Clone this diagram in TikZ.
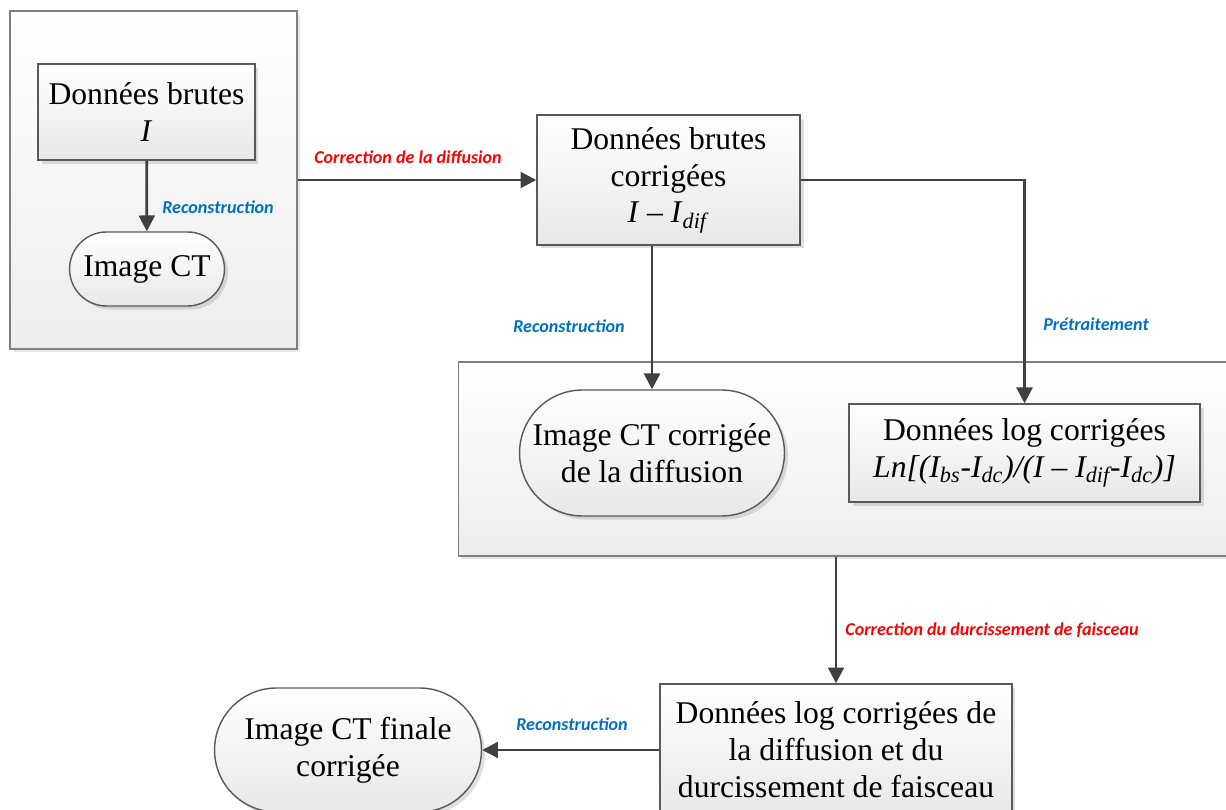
\documentclass[tikz,border=0pt]{standalone}
\usepackage{fontspec}
\setmainfont{Liberation Serif}
\newfontfamily\lblfont{Carlito}
\usetikzlibrary{positioning, arrows.meta, shapes.misc, shadows}
\definecolor{arrowgray}{HTML}{404040}
\definecolor{boxgray}{HTML}{595959}
\definecolor{panelgray}{HTML}{7F7F7F}
\definecolor{lblred}{HTML}{FF0000}
\definecolor{lblblue}{HTML}{0070C0}

\tikzset{
  panel/.style={draw=panelgray, line width=0.8pt, top color=white, bottom color=black!7,
    drop shadow={opacity=0.2, shadow xshift=2pt, shadow yshift=-2pt}},
  databox/.style={draw=boxgray, line width=0.8pt, top color=white, bottom color=black!9,
    drop shadow={opacity=0.25, shadow xshift=2pt, shadow yshift=-2pt},
    align=center, inner sep=2pt, font=\fontsize{18}{21}\selectfont},
  imgbox/.style={databox, rounded rectangle},
  flow/.style={draw=arrowgray, line width=1.6pt, -{Triangle[length=9pt, width=9pt]}},
  lbl/.style={font=\lblfont\bfseries\itshape\fontsize{10.3}{12}\selectfont, inner sep=1pt}
}

\begin{document}
\begin{tikzpicture}[x=0.02cm, y=-0.02cm]
  \useasboundingbox (0,0) rectangle (1226,810);

  % panels
  \node[panel, minimum width=5.74cm, minimum height=6.76cm] (left) at (153.5,180) {};
  \node[panel, minimum width=15.5cm, minimum height=3.88cm] (mid) at (846,459) {};

  % first stage
  \node[databox, minimum width=4.34cm, minimum height=1.92cm] (raw) at (146.5,112)
    {Données brutes\\\textit{I}};
  \node[imgbox, minimum width=3.24cm, minimum height=1.48cm] (img) at (147,269) {Image CT};

  \node[databox, minimum width=5.26cm, minimum height=2.6cm] (rawcorr) at (668.5,180)
    {Données brutes\\corrigées\\\textit{I} – \textit{I}\textsubscript{\textit{dif}}};

  % second stage
  \node[imgbox, minimum width=5.44cm, minimum height=2.52cm] (imgdif) at (652,453)
    {Image CT corrigée\\de la diffusion};
  \node[databox, minimum width=7.02cm, minimum height=1.96cm] (logcorr) at (1024.5,453)
    {Données log corrigées\\\textit{Ln[(I\textsubscript{bs}-I\textsubscript{dc})/(I – I\textsubscript{dif}-I\textsubscript{dc})]}};

  % final stage
  \node[databox, minimum width=7.04cm, minimum height=2.64cm] (logfinal) at (836,750)
    {Données log corrigées de\\la diffusion et du\\durcissement de faisceau};
  \node[imgbox, minimum width=5.48cm, minimum height=2.48cm] (imgfinal) at (348,750)
    {Image CT finale\\corrigée};

  % connectors
  \draw[flow] (raw) -- (img);
  \draw[flow] (left.east) -- (rawcorr.west);
  \draw[flow] (rawcorr.south -| imgdif.north) -- (imgdif.north);
  \draw[flow] (rawcorr.east) -| (logcorr.north);
  \draw[flow] (mid.south -| logfinal.north) -- (logfinal.north);
  \draw[flow] (logfinal.west) -- (imgfinal.east);

  % labels
  \node[lbl, text=lblblue] (rec1) at (218,207) {Reconstruction};
  \node[lbl, text=lblred] (diff) at (408,157) {Correction de la diffusion};
  \node[lbl, text=lblblue] (rec2) at (569,326) {Reconstruction};
  \node[lbl, text=lblblue] (pre) at (1096,324) {Prétraitement};
  \node[lbl, text=lblred] (durc) at (992,630) {Correction du durcissement de faisceau};
  \node[lbl, text=lblblue] (rec3) at (572,724) {Reconstruction};
\end{tikzpicture}
\end{document}
